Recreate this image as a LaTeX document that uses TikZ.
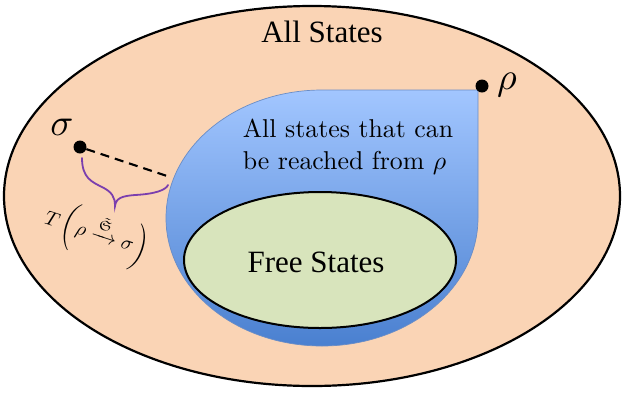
\documentclass[tikz,border=0pt]{standalone}
\usepackage{amsmath,amssymb}
\usepackage{fontspec}
\newfontfamily\timesfont{Liberation Serif}
\definecolor{peach}{HTML}{FAD4B5}
\definecolor{blueTop}{HTML}{A2C6FF}
\definecolor{blueBot}{HTML}{4A80D0}
\definecolor{blueEdge}{HTML}{6A8DC6}
\definecolor{greenF}{HTML}{D8E4BC}
\definecolor{bracePurple}{HTML}{7B3FAE}
\tikzset{
  setline/.style={line width=2.2pt, draw=black},
  dotnode/.style={circle, fill=black, inner sep=0pt, minimum size=13pt},
  bigmath/.style={inner sep=0pt, scale=3.8, font=\fontsize{10}{12}\selectfont},
  serifbig/.style={inner sep=0pt, font=\timesfont\fontsize{31}{36}\selectfont},
}
\begin{document}
\begin{tikzpicture}[x=1pt,y=-1pt]
\useasboundingbox (0,0) rectangle (625,392);
\fill[white] (0,0) rectangle (625,392);
% all states
\draw[setline, fill=peach] (312,196) ellipse [x radius=308pt, y radius=190pt];
% reachable set (teardrop)
\draw[draw=blueEdge, line width=0.7pt, top color=blueTop, bottom color=blueBot]
  (478,90) -- (478,218) arc[start angle=0, end angle=-270, x radius=156pt, y radius=128pt] -- cycle;
% free states
\draw[line width=2pt, draw=black, fill=greenF] (320,260) ellipse [x radius=136pt, y radius=68pt];
% texts
\node[serifbig, anchor=base] (all) at (322,42) {All States};
\node[serifbig, anchor=base] (free) at (316,272) {Free States};
\node[align=left, inner sep=0pt, scale=2.58, font=\fontsize{10}{12.4}\selectfont] (reach) at (348,147)
  {All states that can\\be reached from $\rho$};
% points
\node[dotnode] (sd) at (80,147) {};
\node[dotnode] (rd) at (482,86) {};
\node[bigmath, anchor=base] (sl) at (62,135) {$\sigma$};
\node[bigmath, anchor=base] (rl) at (507,89) {$\rho$};
% dashed distance
\coordinate (e) at (170,177);
\draw[line width=2.2pt, dash pattern=on 9pt off 6pt] (sd) -- (e);
% brace
\coordinate (b1) at (82,158);
\coordinate (bt) at (115,206);
\coordinate (b2) at (168,185);
\draw[bracePurple, line width=1.8pt, line cap=round]
  (b1) .. controls (82,178) and (92,182) .. (102,187)
       .. controls (112,192) and (115,197) .. (bt)
       .. controls (116,198) and (122,196) .. (135,195)
       .. controls (155,194) and (166,190) .. (b2);
\node[rotate=-18, inner sep=0pt, scale=2.0, font=\fontsize{10}{12}\selectfont] (tl) at (96,235)
  {$T\left(\rho\xrightarrow{\tilde{\mathfrak{S}}}\sigma\right)$};
\end{tikzpicture}
\end{document}
